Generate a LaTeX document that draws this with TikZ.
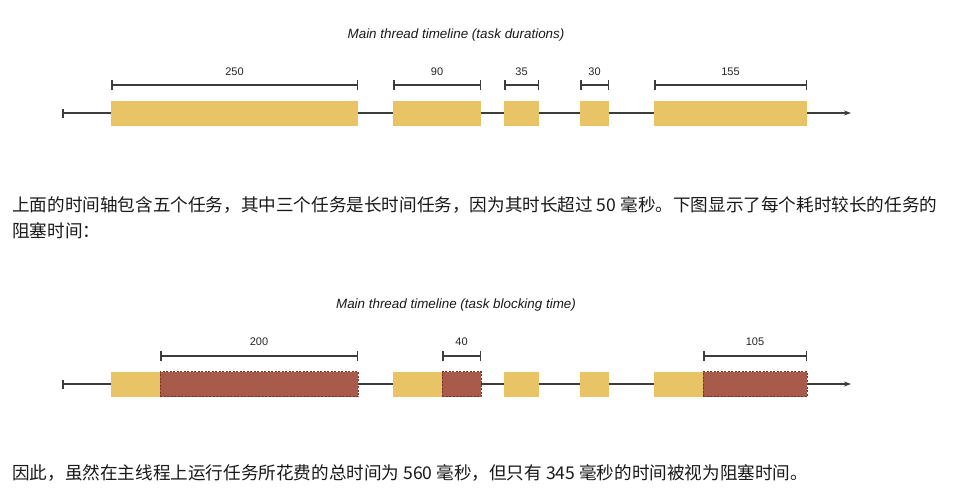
\documentclass[tikz,border=0pt]{standalone}
\usepackage{fontspec}
\setmainfont{Liberation Sans}
\newfontfamily\cjk{Noto Sans CJK SC}
\usetikzlibrary{arrows.meta}
\definecolor{taskyellow}{HTML}{E8C466}
\definecolor{blockred}{HTML}{A85B4B}
\definecolor{blockedge}{HTML}{7A3328}
\definecolor{axisgray}{HTML}{3C3C3C}
\begin{document}
\begin{tikzpicture}[x=1pt,y=-1pt,
  taskbox/.style={fill=taskyellow, draw=none, inner sep=0pt, outer sep=0pt, minimum height=25pt, anchor=west},
  blockbox/.style={fill=blockred, draw=blockedge, dash pattern=on 2pt off 1.5pt, line width=0.6pt, inner sep=0pt, outer sep=0pt, minimum height=25pt, anchor=west},
  axisline/.style={draw=axisgray, line width=1.5pt, {Bar[width=9pt]}-{Stealth[length=7pt,width=5pt]}},
  spanline/.style={draw=axisgray, line width=1.5pt, {Bar[width=10pt]}-{Bar[width=10pt]}},
  spanlabel/.style={font=\fontsize{11}{13}\selectfont, text=black!85, inner sep=0pt},
  titletext/.style={font=\itshape\fontsize{13.4}{16}\selectfont, text=black!90, inner sep=0pt},
  para/.style={font=\cjk\fontsize{17.6}{26}\selectfont, anchor=west, inner sep=0pt, text=black!90}
]
\useasboundingbox (0,0) rectangle (960,496);
\fill[white] (0,0) rectangle (960,496);

% ---------- top timeline ----------
\node[titletext] (title1) at (456,35) {Main thread timeline (task durations)};
\coordinate (a1s) at (62,113);
\coordinate (a1e) at (851,113);
\draw[axisline] (a1s) -- (a1e);
\node[taskbox, minimum width=247pt] (t1) at (111,113) {};
\node[taskbox, minimum width=88pt]  (t2) at (393,113) {};
\node[taskbox, minimum width=35pt]  (t3) at (504,113) {};
\node[taskbox, minimum width=29pt]  (t4) at (580,113) {};
\node[taskbox, minimum width=153pt] (t5) at (654,113) {};

\foreach \n/\l in {t1/250,t2/90,t3/35,t4/30,t5/155}{
  \coordinate (\n-sl) at ([yshift=28pt]\n.west);
  \coordinate (\n-sr) at ([yshift=28pt]\n.east);
  \draw[spanline] (\n-sl) -- (\n-sr);
  \node[spanlabel] (\n-lab) at ([yshift=41.5pt]\n.center) {\l};
}

% ---------- top paragraph ----------
\node[para] (p1) at (12,205) {上面的时间轴包含五个任务，其中三个任务是长时间任务，因为其时长超过 50 毫秒。下图显示了每个耗时较长的任务的};
\node[para] (p2) at (12,231) {阻塞时间：};

% ---------- bottom timeline ----------
\node[titletext] (title2) at (456,305) {Main thread timeline (task blocking time)};
\coordinate (a2s) at (62,384);
\coordinate (a2e) at (851,384);
\draw[axisline] (a2s) -- (a2e);
\node[taskbox, minimum width=49pt]  (b1) at (111,384) {};
\node[blockbox, minimum width=198pt] (r1) at (160,384) {};
\node[taskbox, minimum width=49pt]  (b2) at (393,384) {};
\node[blockbox, minimum width=39pt] (r2) at (442,384) {};
\node[taskbox, minimum width=35pt]  (b3) at (504,384) {};
\node[taskbox, minimum width=29pt]  (b4) at (580,384) {};
\node[taskbox, minimum width=49pt]  (b5) at (654,384) {};
\node[blockbox, minimum width=104pt] (r5) at (703,384) {};

\foreach \n/\l in {r1/200,r2/40,r5/105}{
  \coordinate (\n-sl) at ([yshift=28pt]\n.west);
  \coordinate (\n-sr) at ([yshift=28pt]\n.east);
  \draw[spanline] (\n-sl) -- (\n-sr);
  \node[spanlabel] (\n-lab) at ([yshift=42pt]\n.center) {\l};
}

% ---------- bottom paragraph ----------
\node[para] (p3) at (12,473) {因此，虽然在主线程上运行任务所花费的总时间为 560 毫秒，但只有 345 毫秒的时间被视为阻塞时间。};
\end{tikzpicture}
\end{document}
